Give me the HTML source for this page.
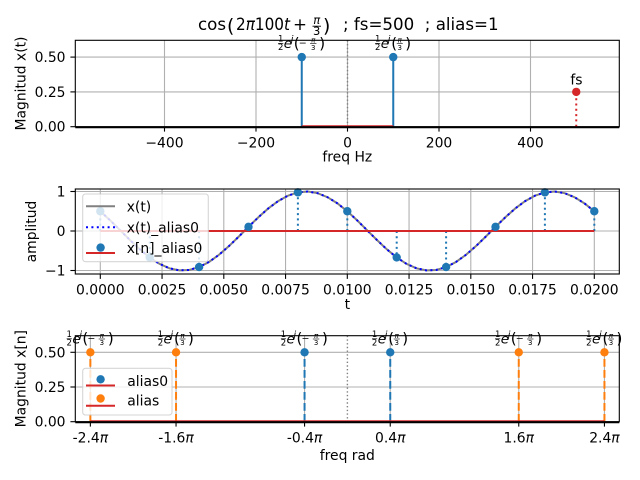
<!DOCTYPE html>
<html><head><meta charset="utf-8"><style>html,body{margin:0;padding:0;background:#fff}svg{display:block}</style></head>
<body>
<svg width="640" height="480" viewBox="0 0 640 480" xmlns="http://www.w3.org/2000/svg" font-family="DejaVu Sans, Liberation Sans, sans-serif" fill="#000">
<rect width="640" height="480" fill="#fff"/>

<!-- ================= TITLE ================= -->
<text x="198" y="30" font-size="16.67">cos</text>
<text x="227" y="31.9" font-size="18.8">(</text>
<text x="236" y="30" font-size="16.67" textLength="54" lengthAdjust="spacingAndGlyphs">2<tspan font-style="italic">π</tspan>100<tspan font-style="italic">t</tspan></text>
<text x="293" y="30" font-size="16.67">+</text>
<text x="316.7" y="24" font-size="11.5" font-style="italic" text-anchor="middle">π</text>
<line x1="312.5" y1="26.2" x2="321" y2="26.2" stroke="#000" stroke-width="0.9"/>
<text x="316.7" y="35" font-size="11.5" text-anchor="middle">3</text>
<text x="323" y="31.9" font-size="18.8">)</text>
<text x="343" y="30" font-size="16.67" xml:space="preserve">; fs=500  ; alias=1</text>

<!-- ================= AXES 1 ================= -->
<g stroke="#b0b0b0" stroke-width="1.1">
<line x1="164.5" y1="40.3" x2="164.5" y2="126.7"/>
<line x1="256" y1="40.3" x2="256" y2="126.7"/>
<line x1="347.5" y1="40.3" x2="347.5" y2="126.7"/>
<line x1="439" y1="40.3" x2="439" y2="126.7"/>
<line x1="530.5" y1="40.3" x2="530.5" y2="126.7"/>
<line x1="75.3" y1="57.1" x2="619.3" y2="57.1"/>
<line x1="75.3" y1="91.9" x2="619.3" y2="91.9"/>
</g>
<line x1="347.5" y1="40.3" x2="347.5" y2="126.7" stroke="#808080" stroke-width="1.4" stroke-dasharray="1.4 2.3"/>
<g stroke="#1f77b4" stroke-width="2">
<line x1="301.75" y1="126.7" x2="301.75" y2="57.1"/>
<line x1="393.25" y1="126.7" x2="393.25" y2="57.1"/>
</g>
<line x1="75.3" y1="127.2" x2="619.3" y2="127.2" stroke="#000" stroke-width="2"/>
<line x1="301.75" y1="125.9" x2="393.25" y2="125.9" stroke="#d62728" stroke-width="1.3"/>
<line x1="576.25" y1="126.7" x2="576.25" y2="91.9" stroke="#d62728" stroke-width="2" stroke-dasharray="2 3.3"/>
<circle cx="301.75" cy="57.1" r="4.2" fill="#1f77b4"/>
<circle cx="393.25" cy="57.1" r="4.2" fill="#1f77b4"/>
<circle cx="576.25" cy="91.9" r="4.2" fill="#d62728"/>
<text x="576.5" y="84.5" font-size="13.9" text-anchor="middle">fs</text>
<rect x="75.3" y="40.3" width="544" height="86.4" fill="none" stroke="#000" stroke-width="1.1"/>
<g stroke="#000" stroke-width="1.1">
<line x1="70.4" y1="57.1" x2="75.3" y2="57.1"/>
<line x1="70.4" y1="91.9" x2="75.3" y2="91.9"/>
<line x1="70.4" y1="126.7" x2="75.3" y2="126.7"/>
<line x1="164.5" y1="126.7" x2="164.5" y2="131.6"/>
<line x1="256" y1="126.7" x2="256" y2="131.6"/>
<line x1="347.5" y1="126.7" x2="347.5" y2="131.6"/>
<line x1="439" y1="126.7" x2="439" y2="131.6"/>
<line x1="530.5" y1="126.7" x2="530.5" y2="131.6"/>
</g>
<g font-size="13.9" text-anchor="end">
<text x="65.5" y="62.1">0.50</text>
<text x="65.5" y="96.9">0.25</text>
<text x="65.5" y="131.7">0.00</text>
</g>
<g font-size="13.9" text-anchor="middle">
<text x="164.5" y="147.3">−400</text>
<text x="256" y="147.3">−200</text>
<text x="347.5" y="147.3">0</text>
<text x="439" y="147.3">200</text>
<text x="530.5" y="147.3">400</text>
<text x="347.3" y="161.7">freq Hz</text>
</g>
<text transform="translate(25.6,83.5) rotate(-90)" font-size="13.9" text-anchor="middle">Magnitud x(t)</text>

<!-- annotations axes 1 -->
<g transform="translate(277.75,48)">
<text x="2.9" y="-6.3" font-size="8.5" text-anchor="middle">1</text>
<line x1="0.3" y1="-4.6" x2="5.5" y2="-4.6" stroke="#000" stroke-width="0.7"/>
<text x="2.9" y="2" font-size="8.5" text-anchor="middle">2</text>
<text x="6" y="0" font-size="13.5" font-style="italic">e</text>
<text x="13" y="-5.5" font-size="9.5" font-style="italic">j</text>
<text x="16" y="0.3" font-size="15">(</text>
<text x="21" y="-2" font-size="9.5">−</text>
<text x="35.5" y="-5.6" font-size="7" font-style="italic" text-anchor="middle">π</text>
<line x1="32.3" y1="-4.4" x2="38.7" y2="-4.4" stroke="#000" stroke-width="0.6"/>
<text x="35.5" y="1.8" font-size="7" text-anchor="middle">3</text>
<text x="41.5" y="0.3" font-size="15">)</text>
</g>
<g transform="translate(374.75,48)">
<text x="2.9" y="-6.3" font-size="8.5" text-anchor="middle">1</text>
<line x1="0.3" y1="-4.6" x2="5.5" y2="-4.6" stroke="#000" stroke-width="0.7"/>
<text x="2.9" y="2" font-size="8.5" text-anchor="middle">2</text>
<text x="6" y="0" font-size="13.5" font-style="italic">e</text>
<text x="13" y="-5.5" font-size="9.5" font-style="italic">j</text>
<text x="16.5" y="0.3" font-size="15">(</text>
<text x="25" y="-5.6" font-size="7" font-style="italic" text-anchor="middle">π</text>
<line x1="22" y1="-4.4" x2="28" y2="-4.4" stroke="#000" stroke-width="0.6"/>
<text x="25" y="1.8" font-size="7" text-anchor="middle">3</text>
<text x="30.5" y="0.3" font-size="15">)</text>
</g>

<!-- ================= AXES 2 ================= -->
<g stroke="#b0b0b0" stroke-width="1.1">
<line x1="100.3" y1="189" x2="100.3" y2="274"/>
<line x1="162.05" y1="189" x2="162.05" y2="274"/>
<line x1="223.8" y1="189" x2="223.8" y2="274"/>
<line x1="285.55" y1="189" x2="285.55" y2="274"/>
<line x1="347.3" y1="189" x2="347.3" y2="274"/>
<line x1="409.05" y1="189" x2="409.05" y2="274"/>
<line x1="470.8" y1="189" x2="470.8" y2="274"/>
<line x1="532.55" y1="189" x2="532.55" y2="274"/>
<line x1="594.3" y1="189" x2="594.3" y2="274"/>
<line x1="75.3" y1="191.5" x2="619.3" y2="191.5"/>
<line x1="75.3" y1="231" x2="619.3" y2="231"/>
<line x1="75.3" y1="270.5" x2="619.3" y2="270.5"/>
</g>
<polyline fill="none" stroke="#808080" stroke-width="2" points="100.3,211.25 110.18,220.38 120.06,230.17 129.94,240.02 139.82,249.30 149.7,257.43 159.58,263.90 169.46,268.30 179.34,270.36 189.22,269.95 199.1,267.08 208.98,261.96 218.86,254.88 228.74,246.31 238.62,236.77 248.5,226.87 258.38,217.23 268.26,208.46 278.14,201.10 288.02,195.62 297.9,192.36 307.78,191.54 317.66,193.19 327.54,197.21 337.42,203.36 347.3,211.25 357.18,220.38 367.06,230.17 376.94,240.02 386.82,249.30 396.7,257.43 406.58,263.90 416.46,268.30 426.34,270.36 436.22,269.95 446.1,267.08 455.98,261.96 465.86,254.88 475.74,246.31 485.62,236.77 495.5,226.87 505.38,217.23 515.26,208.46 525.14,201.10 535.02,195.62 544.9,192.36 554.78,191.54 564.66,193.19 574.54,197.21 584.42,203.36 594.3,211.25"/>
<polyline fill="none" stroke="#0000ff" stroke-width="2" stroke-dasharray="2 3.4" points="100.3,211.25 110.18,220.38 120.06,230.17 129.94,240.02 139.82,249.30 149.7,257.43 159.58,263.90 169.46,268.30 179.34,270.36 189.22,269.95 199.1,267.08 208.98,261.96 218.86,254.88 228.74,246.31 238.62,236.77 248.5,226.87 258.38,217.23 268.26,208.46 278.14,201.10 288.02,195.62 297.9,192.36 307.78,191.54 317.66,193.19 327.54,197.21 337.42,203.36 347.3,211.25 357.18,220.38 367.06,230.17 376.94,240.02 386.82,249.30 396.7,257.43 406.58,263.90 416.46,268.30 426.34,270.36 436.22,269.95 446.1,267.08 455.98,261.96 465.86,254.88 475.74,246.31 485.62,236.77 495.5,226.87 505.38,217.23 515.26,208.46 525.14,201.10 535.02,195.62 544.9,192.36 554.78,191.54 564.66,193.19 574.54,197.21 584.42,203.36 594.3,211.25"/>
<g stroke="#1f77b4" stroke-width="2" stroke-dasharray="2 3.3">
<line x1="100.3" y1="231" x2="100.3" y2="211.25"/>
<line x1="149.7" y1="231" x2="149.7" y2="257.43"/>
<line x1="199.1" y1="231" x2="199.1" y2="267.08"/>
<line x1="248.5" y1="231" x2="248.5" y2="226.87"/>
<line x1="297.9" y1="231" x2="297.9" y2="192.36"/>
<line x1="347.3" y1="231" x2="347.3" y2="211.25"/>
<line x1="396.7" y1="231" x2="396.7" y2="257.43"/>
<line x1="446.1" y1="231" x2="446.1" y2="267.08"/>
<line x1="495.5" y1="231" x2="495.5" y2="226.87"/>
<line x1="544.9" y1="231" x2="544.9" y2="192.36"/>
<line x1="594.3" y1="231" x2="594.3" y2="211.25"/>
</g>
<line x1="100.3" y1="231" x2="594.3" y2="231" stroke="#d62728" stroke-width="2"/>
<g fill="#1f77b4">
<circle cx="100.3" cy="211.25" r="4.2"/>
<circle cx="149.7" cy="257.43" r="4.2"/>
<circle cx="199.1" cy="267.08" r="4.2"/>
<circle cx="248.5" cy="226.87" r="4.2"/>
<circle cx="297.9" cy="192.36" r="4.2"/>
<circle cx="347.3" cy="211.25" r="4.2"/>
<circle cx="396.7" cy="257.43" r="4.2"/>
<circle cx="446.1" cy="267.08" r="4.2"/>
<circle cx="495.5" cy="226.87" r="4.2"/>
<circle cx="544.9" cy="192.36" r="4.2"/>
<circle cx="594.3" cy="211.25" r="4.2"/>
</g>
<rect x="75.3" y="189" width="544" height="85" fill="none" stroke="#000" stroke-width="1.1"/>
<g stroke="#000" stroke-width="1.1">
<line x1="70.4" y1="191.5" x2="75.3" y2="191.5"/>
<line x1="70.4" y1="231" x2="75.3" y2="231"/>
<line x1="70.4" y1="270.5" x2="75.3" y2="270.5"/>
<line x1="100.3" y1="274" x2="100.3" y2="278.9"/>
<line x1="162.05" y1="274" x2="162.05" y2="278.9"/>
<line x1="223.8" y1="274" x2="223.8" y2="278.9"/>
<line x1="285.55" y1="274" x2="285.55" y2="278.9"/>
<line x1="347.3" y1="274" x2="347.3" y2="278.9"/>
<line x1="409.05" y1="274" x2="409.05" y2="278.9"/>
<line x1="470.8" y1="274" x2="470.8" y2="278.9"/>
<line x1="532.55" y1="274" x2="532.55" y2="278.9"/>
<line x1="594.3" y1="274" x2="594.3" y2="278.9"/>
</g>
<g font-size="13.9" text-anchor="end">
<text x="65.5" y="196.5">1</text>
<text x="65.5" y="236">0</text>
<text x="65.5" y="275.5">−1</text>
</g>
<g font-size="13.9" text-anchor="middle">
<text x="100.3" y="294.6">0.0000</text>
<text x="162.05" y="294.6">0.0025</text>
<text x="223.8" y="294.6">0.0050</text>
<text x="285.55" y="294.6">0.0075</text>
<text x="347.3" y="294.6">0.0100</text>
<text x="409.05" y="294.6">0.0125</text>
<text x="470.8" y="294.6">0.0150</text>
<text x="532.55" y="294.6">0.0175</text>
<text x="594.3" y="294.6">0.0200</text>
<text x="347.3" y="309">t</text>
</g>
<text transform="translate(36.2,231.5) rotate(-90)" font-size="13.9" text-anchor="middle">amplitud</text>
<!-- legend 2 -->
<rect x="82.7" y="194" width="125.6" height="67.7" rx="2.8" fill="#fff" fill-opacity="0.8" stroke="#cccccc" stroke-opacity="0.8" stroke-width="1.1"/>
<line x1="86" y1="206.3" x2="115" y2="206.3" stroke="#808080" stroke-width="2"/>
<line x1="86" y1="227.3" x2="115" y2="227.3" stroke="#0000ff" stroke-width="2" stroke-dasharray="2 3.4"/>
<line x1="86" y1="253" x2="115" y2="253" stroke="#d62728" stroke-width="2"/>
<circle cx="100.6" cy="247.6" r="4.2" fill="#1f77b4"/>
<g font-size="13.9">
<text x="126.7" y="211.5">x(t)</text>
<text x="126.7" y="232.3">x(t)_alias0</text>
<text x="126.7" y="252.8">x[n]_alias0</text>
</g>

<!-- ================= AXES 3 ================= -->
<g stroke="#b0b0b0" stroke-width="1.1">
<line x1="75.3" y1="352.3" x2="619.3" y2="352.3"/>
<line x1="75.3" y1="387" x2="619.3" y2="387"/>
<line x1="90.36" y1="335.7" x2="90.36" y2="421.7"/>
<line x1="176.04" y1="335.7" x2="176.04" y2="421.7"/>
<line x1="304.56" y1="335.7" x2="304.56" y2="421.7"/>
<line x1="390.24" y1="335.7" x2="390.24" y2="421.7"/>
<line x1="518.76" y1="335.7" x2="518.76" y2="421.7"/>
<line x1="604.44" y1="335.7" x2="604.44" y2="421.7"/>
</g>
<line x1="347.4" y1="335.7" x2="347.4" y2="421.7" stroke="#808080" stroke-width="1.4" stroke-dasharray="1.4 2.3"/>
<g stroke-width="2" stroke-dasharray="7.7 3.3">
<line x1="90.36" y1="421.7" x2="90.36" y2="352.3" stroke="#ff7f0e"/>
<line x1="176.04" y1="421.7" x2="176.04" y2="352.3" stroke="#ff7f0e"/>
<line x1="304.56" y1="421.7" x2="304.56" y2="352.3" stroke="#1f77b4"/>
<line x1="390.24" y1="421.7" x2="390.24" y2="352.3" stroke="#1f77b4"/>
<line x1="518.76" y1="421.7" x2="518.76" y2="352.3" stroke="#ff7f0e"/>
<line x1="604.44" y1="421.7" x2="604.44" y2="352.3" stroke="#ff7f0e"/>
</g>
<line x1="75.3" y1="422.2" x2="619.3" y2="422.2" stroke="#000" stroke-width="2"/>
<line x1="90.36" y1="420.9" x2="604.44" y2="420.9" stroke="#d62728" stroke-width="1.2"/>
<circle cx="90.36" cy="352.3" r="4.2" fill="#ff7f0e"/>
<circle cx="176.04" cy="352.3" r="4.2" fill="#ff7f0e"/>
<circle cx="304.56" cy="352.3" r="4.2" fill="#1f77b4"/>
<circle cx="390.24" cy="352.3" r="4.2" fill="#1f77b4"/>
<circle cx="518.76" cy="352.3" r="4.2" fill="#ff7f0e"/>
<circle cx="604.44" cy="352.3" r="4.2" fill="#ff7f0e"/>
<rect x="75.3" y="335.7" width="544" height="86" fill="none" stroke="#000" stroke-width="1.1"/>
<g stroke="#000" stroke-width="1.1">
<line x1="70.4" y1="352.3" x2="75.3" y2="352.3"/>
<line x1="70.4" y1="387" x2="75.3" y2="387"/>
<line x1="70.4" y1="421.7" x2="75.3" y2="421.7"/>
<line x1="90.36" y1="421.7" x2="90.36" y2="426.6"/>
<line x1="176.04" y1="421.7" x2="176.04" y2="426.6"/>
<line x1="304.56" y1="421.7" x2="304.56" y2="426.6"/>
<line x1="390.24" y1="421.7" x2="390.24" y2="426.6"/>
<line x1="518.76" y1="421.7" x2="518.76" y2="426.6"/>
<line x1="604.44" y1="421.7" x2="604.44" y2="426.6"/>
</g>
<g font-size="13.9" text-anchor="end">
<text x="65.5" y="357.3">0.50</text>
<text x="65.5" y="392">0.25</text>
<text x="65.5" y="426.7">0.00</text>
</g>
<g font-size="13.9" text-anchor="middle">
<text x="90.36" y="442.3">-2.4<tspan font-style="italic">π</tspan></text>
<text x="176.04" y="442.3">-1.6<tspan font-style="italic">π</tspan></text>
<text x="304.56" y="442.3">-0.4<tspan font-style="italic">π</tspan></text>
<text x="390.24" y="442.3">0.4<tspan font-style="italic">π</tspan></text>
<text x="518.76" y="442.3">1.6<tspan font-style="italic">π</tspan></text>
<text x="604.44" y="442.3">2.4<tspan font-style="italic">π</tspan></text>
<text x="347.3" y="460">freq rad</text>
</g>
<text transform="translate(25.6,378.7) rotate(-90)" font-size="13.9" text-anchor="middle">Magnitud x[n]</text>

<!-- legend 3 -->
<rect x="82.7" y="368.3" width="89.3" height="46.7" rx="2.8" fill="#fff" fill-opacity="0.8" stroke="#cccccc" stroke-opacity="0.8" stroke-width="1.1"/>
<line x1="86" y1="385.5" x2="115" y2="385.5" stroke="#d62728" stroke-width="2"/>
<circle cx="100.6" cy="379.3" r="4.2" fill="#1f77b4"/>
<line x1="86" y1="405.7" x2="115" y2="405.7" stroke="#d62728" stroke-width="2"/>
<circle cx="100.6" cy="398.5" r="4.2" fill="#ff7f0e"/>
<g font-size="13.9">
<text x="127.3" y="386">alias0</text>
<text x="127.3" y="405.5">alias</text>
</g>

<!-- annotations axes 3 -->
<g transform="translate(66.36,343.4)">
<text x="2.9" y="-6.3" font-size="8.5" text-anchor="middle">1</text>
<line x1="0.3" y1="-4.6" x2="5.5" y2="-4.6" stroke="#000" stroke-width="0.7"/>
<text x="2.9" y="2" font-size="8.5" text-anchor="middle">2</text>
<text x="6" y="0" font-size="13.5" font-style="italic">e</text>
<text x="13" y="-5.5" font-size="9.5" font-style="italic">j</text>
<text x="16" y="0.3" font-size="15">(</text>
<text x="21" y="-2" font-size="9.5">−</text>
<text x="35.5" y="-5.6" font-size="7" font-style="italic" text-anchor="middle">π</text>
<line x1="32.3" y1="-4.4" x2="38.7" y2="-4.4" stroke="#000" stroke-width="0.6"/>
<text x="35.5" y="1.8" font-size="7" text-anchor="middle">3</text>
<text x="41.5" y="0.3" font-size="15">)</text>
</g>
<g transform="translate(157.54,343.4)">
<text x="2.9" y="-6.3" font-size="8.5" text-anchor="middle">1</text>
<line x1="0.3" y1="-4.6" x2="5.5" y2="-4.6" stroke="#000" stroke-width="0.7"/>
<text x="2.9" y="2" font-size="8.5" text-anchor="middle">2</text>
<text x="6" y="0" font-size="13.5" font-style="italic">e</text>
<text x="13" y="-5.5" font-size="9.5" font-style="italic">j</text>
<text x="16.5" y="0.3" font-size="15">(</text>
<text x="25" y="-5.6" font-size="7" font-style="italic" text-anchor="middle">π</text>
<line x1="22" y1="-4.4" x2="28" y2="-4.4" stroke="#000" stroke-width="0.6"/>
<text x="25" y="1.8" font-size="7" text-anchor="middle">3</text>
<text x="30.5" y="0.3" font-size="15">)</text>
</g>
<g transform="translate(280.56,343.4)">
<text x="2.9" y="-6.3" font-size="8.5" text-anchor="middle">1</text>
<line x1="0.3" y1="-4.6" x2="5.5" y2="-4.6" stroke="#000" stroke-width="0.7"/>
<text x="2.9" y="2" font-size="8.5" text-anchor="middle">2</text>
<text x="6" y="0" font-size="13.5" font-style="italic">e</text>
<text x="13" y="-5.5" font-size="9.5" font-style="italic">j</text>
<text x="16" y="0.3" font-size="15">(</text>
<text x="21" y="-2" font-size="9.5">−</text>
<text x="35.5" y="-5.6" font-size="7" font-style="italic" text-anchor="middle">π</text>
<line x1="32.3" y1="-4.4" x2="38.7" y2="-4.4" stroke="#000" stroke-width="0.6"/>
<text x="35.5" y="1.8" font-size="7" text-anchor="middle">3</text>
<text x="41.5" y="0.3" font-size="15">)</text>
</g>
<g transform="translate(371.74,343.4)">
<text x="2.9" y="-6.3" font-size="8.5" text-anchor="middle">1</text>
<line x1="0.3" y1="-4.6" x2="5.5" y2="-4.6" stroke="#000" stroke-width="0.7"/>
<text x="2.9" y="2" font-size="8.5" text-anchor="middle">2</text>
<text x="6" y="0" font-size="13.5" font-style="italic">e</text>
<text x="13" y="-5.5" font-size="9.5" font-style="italic">j</text>
<text x="16.5" y="0.3" font-size="15">(</text>
<text x="25" y="-5.6" font-size="7" font-style="italic" text-anchor="middle">π</text>
<line x1="22" y1="-4.4" x2="28" y2="-4.4" stroke="#000" stroke-width="0.6"/>
<text x="25" y="1.8" font-size="7" text-anchor="middle">3</text>
<text x="30.5" y="0.3" font-size="15">)</text>
</g>
<g transform="translate(494.76,343.4)">
<text x="2.9" y="-6.3" font-size="8.5" text-anchor="middle">1</text>
<line x1="0.3" y1="-4.6" x2="5.5" y2="-4.6" stroke="#000" stroke-width="0.7"/>
<text x="2.9" y="2" font-size="8.5" text-anchor="middle">2</text>
<text x="6" y="0" font-size="13.5" font-style="italic">e</text>
<text x="13" y="-5.5" font-size="9.5" font-style="italic">j</text>
<text x="16" y="0.3" font-size="15">(</text>
<text x="21" y="-2" font-size="9.5">−</text>
<text x="35.5" y="-5.6" font-size="7" font-style="italic" text-anchor="middle">π</text>
<line x1="32.3" y1="-4.4" x2="38.7" y2="-4.4" stroke="#000" stroke-width="0.6"/>
<text x="35.5" y="1.8" font-size="7" text-anchor="middle">3</text>
<text x="41.5" y="0.3" font-size="15">)</text>
</g>
<g transform="translate(585.94,343.4)">
<text x="2.9" y="-6.3" font-size="8.5" text-anchor="middle">1</text>
<line x1="0.3" y1="-4.6" x2="5.5" y2="-4.6" stroke="#000" stroke-width="0.7"/>
<text x="2.9" y="2" font-size="8.5" text-anchor="middle">2</text>
<text x="6" y="0" font-size="13.5" font-style="italic">e</text>
<text x="13" y="-5.5" font-size="9.5" font-style="italic">j</text>
<text x="16.5" y="0.3" font-size="15">(</text>
<text x="25" y="-5.6" font-size="7" font-style="italic" text-anchor="middle">π</text>
<line x1="22" y1="-4.4" x2="28" y2="-4.4" stroke="#000" stroke-width="0.6"/>
<text x="25" y="1.8" font-size="7" text-anchor="middle">3</text>
<text x="30.5" y="0.3" font-size="15">)</text>
</g>
</svg>
</body></html>
